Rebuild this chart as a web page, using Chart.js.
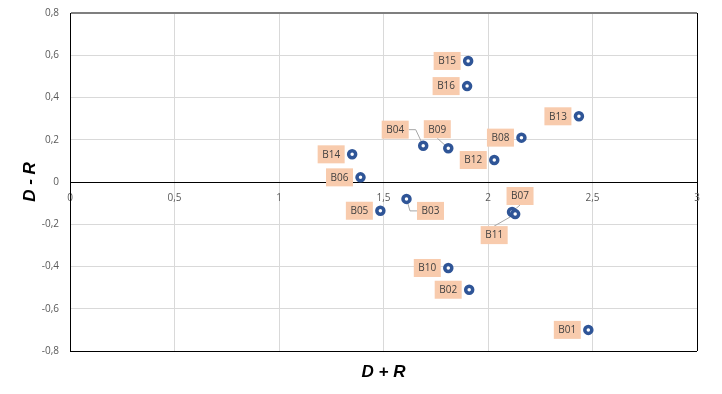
<!DOCTYPE html>
<html>
<head>
<meta charset="utf-8">
<script src="https://cdn.jsdelivr.net/npm/chart.js@4"></script>
<style>
  body { margin: 0; background: #fff; }
  #wrap { width: 722px; height: 394px; }
</style>
</head>
<body>
<div id="wrap"><canvas id="chart"></canvas></div>
<script>
// sample names and the two measures
const names = ["B01", "B02", "B03", "B04", "B05", "B06", "B07", "B08",
               "B09", "B10", "B11", "B12", "B13", "B14", "B15", "B16"];
const sumDR = [2.48, 1.91, 1.61, 1.69, 1.485, 1.39, 2.115, 2.16,
               1.81, 1.81, 2.13, 2.03, 2.435, 1.35, 1.905, 1.90];
const diffDR = [-0.70, -0.51, -0.08, 0.172, -0.136, 0.022, -0.142, 0.21,
                0.16, -0.407, -0.152, 0.104, 0.311, 0.131, 0.573, 0.454];

const xTicks = [0, 0.5, 1, 1.5, 2, 2.5, 3];
const yTicks = [-0.8, -0.6, -0.4, -0.2, 0, 0.2, 0.4, 0.6, 0.8];

// label placement (box centre relative to the point), default is left of the point
const labelShift = {
  B04: [-28, -16],
  B09: [-11, -19],
  B03: [24, 12],
  B07: [8, -16],
  B11: [-21, 21]
};

const points = names.map((n, i) => ({ x: sumDR[i], y: diffDR[i], name: n }));

const fmt = v => (Math.round(v * 10) / 10).toString().replace(".", ",");

function boxFor(el, name) {
  const s = labelShift[name] || [-21, 0];
  return { cx: el.x + s[0], cy: el.y + s[1], w: 27, h: 18, leader: !!labelShift[name], dx: s[0], dy: s[1] };
}

const labelPlugin = {
  id: "pointLabels",
  beforeDatasetsDraw(chart) {
    const c = chart.ctx;
    const meta = chart.getDatasetMeta(0);
    c.save();
    c.strokeStyle = "#A6A6A6";
    c.lineWidth = 1;
    meta.data.forEach((el, i) => {
      const b = boxFor(el, names[i]);
      if (!b.leader) return;
      c.beginPath();
      if (Math.abs(b.dx) > Math.abs(b.dy)) {
        // from the box side, short horizontal, then to the point
        const sx = b.dx < 0 ? b.cx + b.w / 2 : b.cx - b.w / 2;
        const ex = sx + (b.dx < 0 ? 7 : -7);
        c.moveTo(sx, b.cy);
        c.lineTo(ex, b.cy);
        c.lineTo(el.x, el.y);
      } else {
        const sy = b.dy < 0 ? b.cy + b.h / 2 : b.cy - b.h / 2;
        c.moveTo(b.cx, sy);
        c.lineTo(el.x, el.y);
      }
      c.stroke();
    });
    c.restore();
  },
  afterDatasetsDraw(chart) {
    const c = chart.ctx;
    const meta = chart.getDatasetMeta(0);
    c.save();
    c.font = "10px 'Open Sans'";
    c.textAlign = "center";
    c.textBaseline = "middle";
    meta.data.forEach((el, i) => {
      const b = boxFor(el, names[i]);
      c.fillStyle = "#F8CBAD";
      c.fillRect(b.cx - b.w / 2, b.cy - b.h / 2, b.w, b.h);
      c.fillStyle = "#404040";
      c.fillText(names[i], b.cx, b.cy + 0.5);
    });
    c.restore();
  }
};

new Chart(document.getElementById("chart"), {
  type: "scatter",
  data: {
    datasets: [{
      data: points,
      pointRadius: 3.5,
      pointHoverRadius: 3.5,
      pointBorderWidth: 3.5,
      pointBackgroundColor: "#FFFFFF",
      pointBorderColor: "#2F5597"
    }]
  },
  options: {
    responsive: true,
    maintainAspectRatio: false,
    animation: false,
    layout: { padding: { top: 13, right: 25, bottom: 0, left: 0 } },
    plugins: {
      legend: { display: false },
      tooltip: { enabled: false },
      title: {
        display: true,
        text: "D + R",
        position: "bottom",
        fullSize: false,
        color: "#000",
        font: { family: "'Liberation Sans'", size: 17, weight: "bold", style: "italic", lineHeight: "20px" },
        padding: { top: 11, bottom: 12 }
      }
    },
    scales: {
      x: {
        type: "linear",
        position: { y: 0 },
        min: 0,
        max: 3,
        afterBuildTicks: s => { s.ticks = xTicks.map(v => ({ value: v })); },
        afterFit: s => { s.paddingTop = 0; s.paddingBottom = 0; },
        ticks: {
          callback: v => fmt(v),
          color: "#595959",
          font: { family: "'Open Sans'", size: 10 },
          padding: 10,
          maxRotation: 0
        },
        grid: {
          drawTicks: false,
          color: c => (c.tick && c.tick.value === 3 ? "#000000" : "#D9D9D9"),
          lineWidth: 1
        },
        border: { color: "#000000", width: 1 }
      },
      y: {
        type: "linear",
        min: -0.8,
        max: 0.8,
        afterBuildTicks: s => { s.ticks = yTicks.map(v => ({ value: v })); },
        afterFit: s => { s.width = 70; s.paddingTop = 0; s.paddingBottom = 0; },
        ticks: {
          callback: v => fmt(v),
          color: "#595959",
          font: { family: "'Open Sans'", size: 10 },
          padding: 11
        },
        grid: {
          drawTicks: false,
          color: c => {
            const v = c.tick ? c.tick.value : null;
            if (v === null) return "#D9D9D9";
            if (Math.abs(v - 0.8) < 1e-6) return "#7F7F7F";
            if (Math.abs(v + 0.8) < 1e-6 || Math.abs(v) < 1e-6) return "#000000";
            return "#D9D9D9";
          },
          lineWidth: c => (c.tick && Math.abs(c.tick.value - 0.8) < 1e-6 ? 2 : 1)
        },
        border: { color: "#000000", width: 1 },
        title: {
          display: true,
          text: "D - R",
          color: "#000",
          font: { family: "'Liberation Sans'", size: 17, weight: "bold", style: "italic", lineHeight: "18px" },
          padding: { top: 21, bottom: 0 }
        }
      }
    }
  },
  plugins: [labelPlugin]
});
</script>
</body>
</html>
